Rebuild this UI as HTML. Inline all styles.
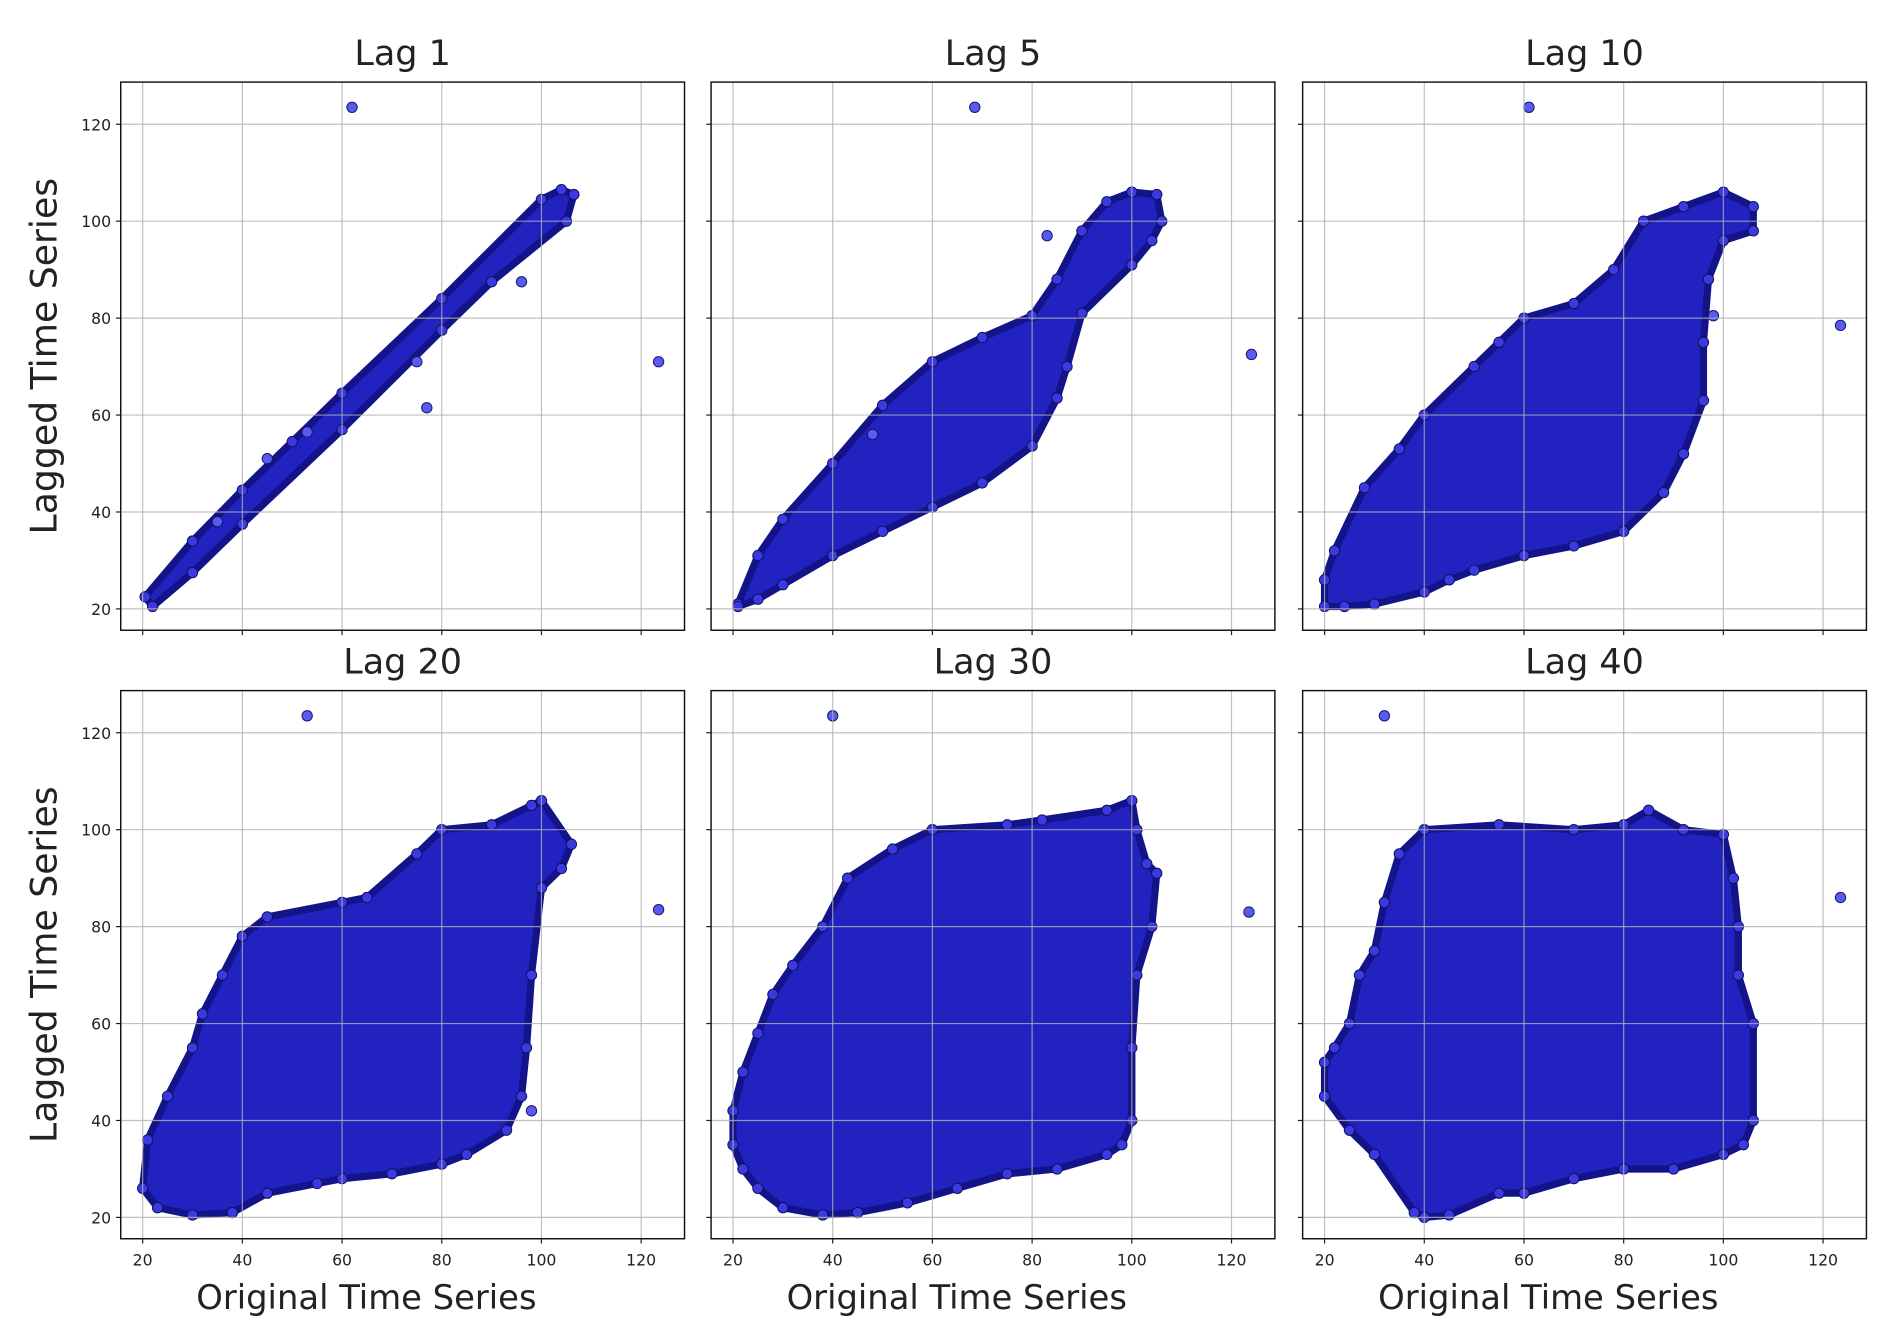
<!DOCTYPE html>
<html><head><meta charset="utf-8">
<style>
html,body{margin:0;padding:0;background:#fff;}
svg{display:block;}
text{font-family:"DejaVu Sans","Liberation Sans",sans-serif;fill:#222;}
</style></head>
<body>
<svg id="chart" width="1893" height="1341" viewBox="0 0 1568 1110.7" preserveAspectRatio="none" xmlns="http://www.w3.org/2000/svg"></svg>
<script>
// ---- data (values in data units) ----
const titles = ["Lag 1","Lag 5","Lag 10","Lag 20","Lag 30","Lag 40"];
const tickValues = [20,40,60,80,100,120];
const tickLabels = ["20","40","60","80","100","120"];
const cloudLag1 = [[20.5,22.5],[30,34],[40,44.5],[50,54.5],[60,64.5],[80,84],[100,104.5],[104,106.5],[106.5,105.5],[105,100],[90,87.5],[80,77.5],[60,57],[40,37.5],[30,27.5],[22,20.5]];
const cloudLag5 = [[21,21],[25,31],[30,38.5],[40,50],[50,62],[60,71],[70,76],[80,80.5],[85,88],[90,98],[95,104],[100,106],[105,105.5],[106,100],[104,96],[100,91],[90,81],[87,70],[85,63.5],[80,53.6],[70,46],[60,41],[50,36],[40,31],[30,25],[25,22],[21,20.5]];
const cloudLag10 = [[20,20.5],[20,26],[22,32],[28,45],[35,53],[40,60],[50,70],[55,75],[60,80],[70,83],[78,90],[84,100],[92,103],[100,106],[106,103],[106,98],[100,96],[97,88],[96,75],[96,63],[92,52],[88,44],[80,36],[70,33],[60,31],[50,28],[45,26],[40,23.5],[30,21],[24,20.5]];
const cloudLag20 = [[20,26],[21,36],[25,45],[30,55],[32,62],[36,70],[40,78],[45,82],[60,85],[65,86],[75,95],[80,100],[90,101],[98,105],[100,106],[106,97],[104,92],[100,88],[98,70],[97,55],[96,45],[93,38],[85,33],[80,31],[70,29],[60,28],[55,27],[45,25],[38,21],[30,20.5],[23,22]];
const cloudLag30 = [[20,35],[20,42],[22,50],[25,58],[28,66],[32,72],[38,80],[43,90],[52,96],[60,100],[75,101],[82,102],[95,104],[100,106],[101,100],[103,93],[105,91],[104,80],[101,70],[100,55],[100,40],[98,35],[95,33],[85,30],[75,29],[65,26],[55,23],[45,21],[38,20.5],[30,22],[25,26],[22,30]];
const cloudLag40 = [[20,52],[20,45],[25,38],[30,33],[38,21],[40,20],[45,20.5],[55,25],[60,25],[70,28],[80,30],[90,30],[100,33],[104,35],[106,40],[106,60],[103,70],[103,80],[102,90],[100,99],[92,100],[85,104],[80,101],[70,100],[55,101],[40,100],[35,95],[32,85],[30,75],[27,70],[25,60],[22,55]];
const outliersLag1 = [[62,123.5],[123.5,71],[77,61.5],[53,56.5],[45,51],[96,87.5],[35,38],[75,71]];
const outliersLag5 = [[68.5,123.5],[124,72.5],[83,97],[48,56]];
const outliersLag10 = [[61,123.5],[123.5,78.5],[98,80.5]];
const outliersLag20 = [[53,123.5],[123.5,83.5],[98,42]];
const outliersLag30 = [[40,123.5],[123.5,83]];
const outliersLag40 = [[32,123.5],[123.5,86]];
const clouds = [cloudLag1,cloudLag5,cloudLag10,cloudLag20,cloudLag30,cloudLag40];
const outliers = [outliersLag1,outliersLag5,outliersLag10,outliersLag20,outliersLag30,outliersLag40];

const NS="http://www.w3.org/2000/svg";
const svg=document.getElementById('chart');
function mk(tag,attrs,parent){const e=document.createElementNS(NS,tag);for(const k in attrs)e.setAttribute(k,attrs[k]);(parent||svg).appendChild(e);return e;}
const colX=[100,589,1079], rowY=[68,572], W=467, H=454;
const DMIN=15.6, DMAX=128.7;

for(let i=0;i<6;i++){
  const c=i%3, r=Math.floor(i/3);
  const x0=colX[c], y0=rowY[r];
  const sx=v=>x0+(v-DMIN)/(DMAX-DMIN)*W;
  const sy=v=>y0+H-(v-DMIN)/(DMAX-DMIN)*H;
  const g=mk('g',{});
  
  
  const pts=clouds[i].map(p=>sx(p[0])+','+sy(p[1])).join(' ');
  const poly=mk('polygon',{points:pts,fill:'#2222c0',stroke:'#14148a','stroke-width':6,'stroke-linejoin':'round'},g);
  
  
  clouds[i].forEach(p=>{
    const e=mk('circle',{cx:sx(p[0]),cy:sy(p[1]),r:4.3,fill:'#3a3ae0',stroke:'#10105a','stroke-width':0.8},g);
    
    
  });
  outliers[i].forEach(p=>{
    const e=mk('circle',{cx:sx(p[0]),cy:sy(p[1]),r:4.3,fill:'#5a5af0',stroke:'#15156a','stroke-width':0.8},g);
    
    
  });
  tickValues.forEach(v=>{
    const gl=mk('line',{x1:sx(v),x2:sx(v),y1:y0,y2:y0+H,stroke:'#b0b0b0','stroke-width':1,'stroke-opacity':0.8},g);
    
    
    const gh=mk('line',{x1:x0,x2:x0+W,y1:sy(v),y2:sy(v),stroke:'#b0b0b0','stroke-width':1,'stroke-opacity':0.8},g);
    
    
    mk('line',{x1:sx(v),x2:sx(v),y1:y0+H,y2:y0+H+4,stroke:'#222','stroke-width':1},g);
    mk('line',{x1:x0-4,x2:x0,y1:sy(v),y2:sy(v),stroke:'#222','stroke-width':1},g);
  });
  const fr=mk('rect',{x:x0,y:y0,width:W,height:H,fill:'none',stroke:'#111','stroke-width':1.2},g);
  
  
  const t=mk('text',{x:x0+W/2,y:y0-14,'text-anchor':'middle','font-size':29},g);
  t.textContent=titles[i];
  
  
  if(c===0){
    tickValues.forEach((v,k)=>{
      const tl=mk('text',{x:x0-8,y:sy(v)+5,'text-anchor':'end','font-size':13},g);
      tl.textContent=tickLabels[k];
      
      
    });
    const yl=mk('text',{x:0,y:0,'text-anchor':'middle','font-size':30,transform:`translate(47,${y0+H/2}) rotate(-90)`},g);
    yl.textContent='Lagged Time Series';
    
    
  }
  if(r===1){
    tickValues.forEach((v,k)=>{
      const tl=mk('text',{x:sx(v),y:y0+H+22,'text-anchor':'middle','font-size':13},g);
      tl.textContent=tickLabels[k];
      
      
    });
    const xl=mk('text',{x:x0+W/2-30,y:1084,'text-anchor':'middle','font-size':28,fill:'#444'},g);
    xl.textContent='Original Time Series';
    
    
  }
}
</script>
</body></html>
